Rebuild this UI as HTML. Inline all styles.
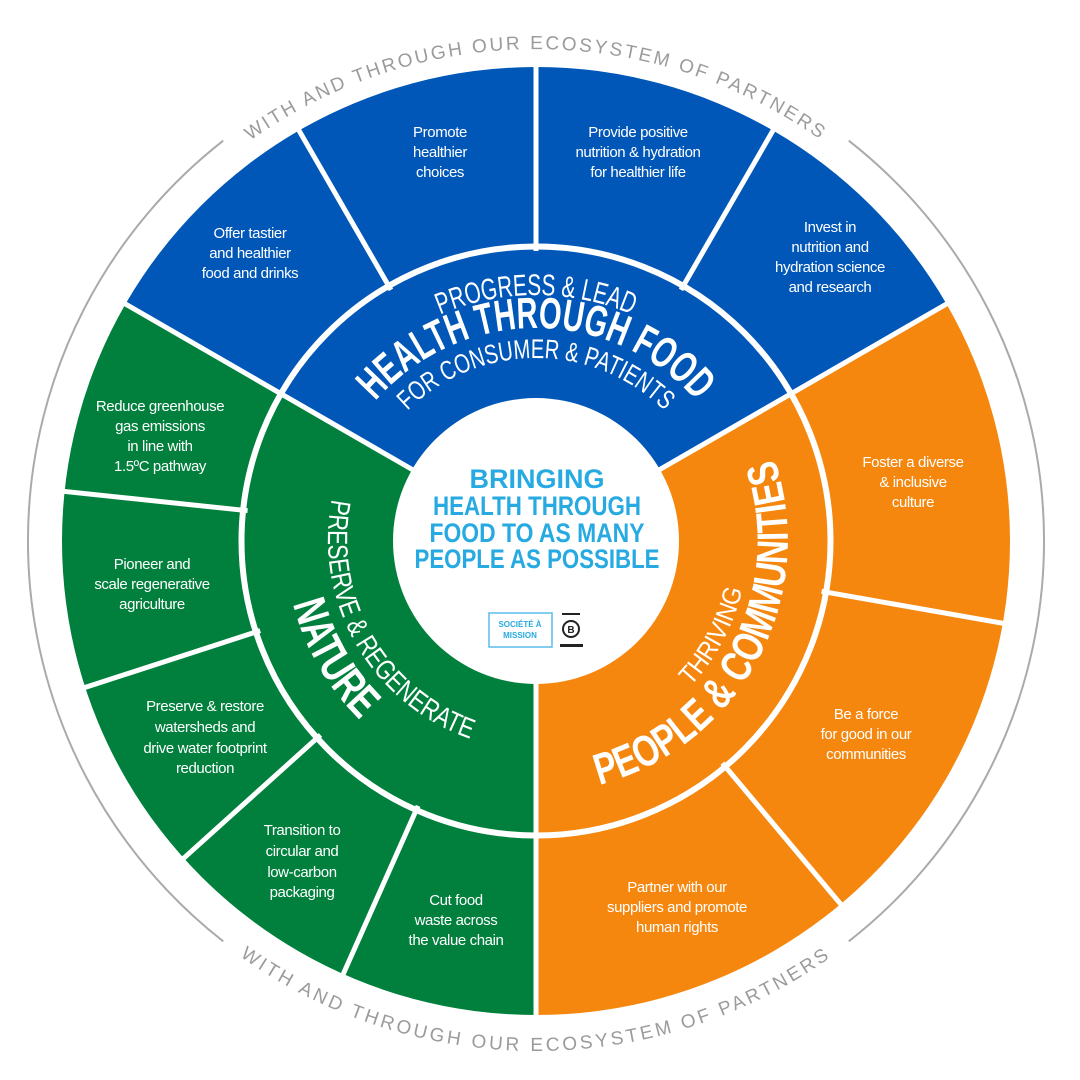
<!DOCTYPE html>
<html><head><meta charset="utf-8"><style>
html,body{margin:0;padding:0;background:#fff;}
svg{display:block;}
.s{font-family:"Liberation Sans Narrow","Liberation Sans",sans-serif;font-size:15px;fill:#fff;text-anchor:middle;letter-spacing:-0.4px;}
.c{font-family:"Liberation Sans Narrow","Liberation Sans",sans-serif;fill:#fff;}
.o{font-family:"Liberation Sans",sans-serif;font-size:19px;fill:#9b9b9b;letter-spacing:3px;}
.m{font-family:"Liberation Sans Narrow","Liberation Sans",sans-serif;font-weight:bold;font-size:27px;fill:#27aae1;text-anchor:middle;}
</style></head><body>
<svg width="1080" height="1080" viewBox="0 0 1080 1080" xmlns="http://www.w3.org/2000/svg">
<defs>
<path id="pTop" d="M44 541 A492 492 0 0 1 1028 541"/>
<path id="pBot" d="M26 541 A510 510 0 0 0 1046 541"/>
<path id="pProg" d="M290 541 A246 246 0 0 1 782 541"/>
<path id="pHealth" d="M323 541 A213 213 0 0 1 749 541"/>
<path id="pFor" d="M353 541 A183 183 0 0 1 719 541"/>
<path id="pPres" d="M430.5 358.3 A211 211 0 0 0 641.5 723.7"/>
<path id="pNat" d="M410.5 323.6 A251 251 0 0 0 661.5 758.4"/>
<path id="pComm" d="M409.5 760.1 A253 253 0 0 0 662.5 321.9"/>
<path id="pThr" d="M430 724.6 A212 212 0 0 0 642 357.4"/>
</defs>
<!-- outer grey arcs -->
<path d="M223.2 140.7 A508 508 0 0 0 223.2 941.3" fill="none" stroke="#aaa" stroke-width="2"/>
<path d="M848.8 941.3 A508 508 0 0 0 848.8 140.7" fill="none" stroke="#aaa" stroke-width="2"/>
<text class="o"><textPath href="#pTop" startOffset="50%" text-anchor="middle" textLength="610" lengthAdjust="spacing">WITH AND THROUGH OUR ECOSYSTEM OF PARTNERS</textPath></text>
<text class="o"><textPath href="#pBot" startOffset="50%" text-anchor="middle" textLength="632" lengthAdjust="spacing">WITH AND THROUGH OUR ECOSYSTEM OF PARTNERS</textPath></text>
<!-- sectors -->
<path d="M536 541 L946.5 304 A474 474 0 0 0 125.5 304 Z" fill="#0057b8"/>
<path d="M536 541 L125.5 304 A474 474 0 0 0 536 1015 Z" fill="#00803c"/>
<path d="M536 541 L536 1015 A474 474 0 0 0 946.5 304 Z" fill="#f5870f"/>
<circle cx="536" cy="541" r="294.5" fill="none" stroke="#fff" stroke-width="6"/>
<g stroke="#fff" stroke-width="5">
<line x1="681" y1="289.9" x2="776" y2="125.3"/>
<line x1="536" y1="251" x2="536" y2="61"/>
<line x1="391" y1="289.9" x2="296" y2="125.3"/>
<line x1="247.6" y1="510.7" x2="58.6" y2="490.8"/>
<line x1="260.2" y1="630.6" x2="79.5" y2="689.3"/>
<line x1="320.5" y1="735" x2="179.3" y2="862.2"/>
<line x1="418.1" y1="805.9" x2="340.8" y2="979.5"/>
<line x1="722.4" y1="763.1" x2="844.5" y2="908.7"/>
<line x1="821.6" y1="591.3" x2="1008.7" y2="624.3"/>
<line x1="657.2" y1="471" x2="951.7" y2="301"/>
<line x1="414.8" y1="471" x2="120.3" y2="301"/>
<line x1="536" y1="681" x2="536" y2="1021"/>
</g>
<circle cx="536" cy="541" r="143" fill="#fff"/>
<!-- category labels -->
<text class="c" font-size="30"><textPath href="#pProg" startOffset="50%" text-anchor="middle" textLength="197" lengthAdjust="spacingAndGlyphs">PROGRESS &amp; LEAD</textPath></text>
<text class="c" font-size="44" font-weight="bold"><textPath href="#pHealth" startOffset="50%" text-anchor="middle" textLength="364" lengthAdjust="spacingAndGlyphs">HEALTH THROUGH FOOD</textPath></text>
<text class="c" font-size="27"><textPath href="#pFor" startOffset="50%" text-anchor="middle" textLength="285" lengthAdjust="spacingAndGlyphs">FOR CONSUMER &amp; PATIENTS</textPath></text>
<text class="c" font-size="28"><textPath href="#pPres" startOffset="50%" text-anchor="middle" textLength="302" lengthAdjust="spacingAndGlyphs">PRESERVE &amp; REGENERATE</textPath></text>
<text class="c" font-size="46" font-weight="bold"><textPath href="#pNat" startOffset="50%" text-anchor="middle" textLength="136" lengthAdjust="spacingAndGlyphs">NATURE</textPath></text>
<text class="c" font-size="44" font-weight="bold"><textPath href="#pComm" startOffset="51%" text-anchor="middle" textLength="415" lengthAdjust="spacingAndGlyphs">PEOPLE &amp; COMMUNITIES</textPath></text>
<text class="c" font-size="26"><textPath href="#pThr" startOffset="51%" text-anchor="middle" textLength="111" lengthAdjust="spacingAndGlyphs">THRIVING</textPath></text>
<!-- center -->
<text class="m" x="537" y="488" textLength="135" lengthAdjust="spacingAndGlyphs">BRINGING</text>
<text class="m" x="537" y="515" textLength="208" lengthAdjust="spacingAndGlyphs">HEALTH THROUGH</text>
<text class="m" x="537" y="542" textLength="215" lengthAdjust="spacingAndGlyphs">FOOD TO AS MANY</text>
<text class="m" x="537" y="568" textLength="245" lengthAdjust="spacingAndGlyphs">PEOPLE AS POSSIBLE</text>
<rect x="489" y="613" width="63" height="34" fill="none" stroke="#5bbcec" stroke-width="1.5"/>
<text x="520" y="627" font-family="Liberation Sans Narrow,Liberation Sans,sans-serif" font-size="8" font-weight="bold" fill="#27aae1" text-anchor="middle">SOCIÉTÉ À</text>
<text x="520" y="638" font-family="Liberation Sans Narrow,Liberation Sans,sans-serif" font-size="8" font-weight="bold" fill="#27aae1" text-anchor="middle">MISSION</text>
<circle cx="571" cy="629" r="8" fill="none" stroke="#222" stroke-width="2"/>
<text x="571" y="633" font-family="Liberation Sans,sans-serif" font-size="10" font-weight="bold" fill="#222" text-anchor="middle">B</text>
<rect x="560" y="644" width="23" height="3" fill="#222"/>
<rect x="562" y="613" width="18" height="2" fill="#222"/>
<!-- segment labels -->
<g class="s">
<text x="440" y="137">Promote</text><text x="440" y="157">healthier</text><text x="440" y="177">choices</text>
<text x="638" y="137">Provide positive</text><text x="638" y="157">nutrition &amp; hydration</text><text x="638" y="177">for healthier life</text>
<text x="250" y="238">Offer tastier</text><text x="250" y="258">and healthier</text><text x="250" y="278">food and drinks</text>
<text x="830" y="232">Invest in</text><text x="830" y="252">nutrition and</text><text x="830" y="272">hydration science</text><text x="830" y="292">and research</text>
<text x="160" y="411">Reduce greenhouse</text><text x="160" y="431">gas emissions</text><text x="160" y="451">in line with</text><text x="160" y="471">1.5ºC pathway</text>
<text x="152" y="569">Pioneer and</text><text x="152" y="589">scale regenerative</text><text x="152" y="609">agriculture</text>
<text x="205" y="711">Preserve &amp; restore</text><text x="205" y="732">watersheds and</text><text x="205" y="753">drive water footprint</text><text x="205" y="773">reduction</text>
<text x="302" y="835">Transition to</text><text x="302" y="856">circular and</text><text x="302" y="877">low-carbon</text><text x="302" y="897">packaging</text>
<text x="456" y="905">Cut food</text><text x="456" y="925">waste across</text><text x="456" y="945">the value chain</text>
<text x="913" y="467">Foster a diverse</text><text x="913" y="487">&amp; inclusive</text><text x="913" y="507">culture</text>
<text x="866" y="719">Be a force</text><text x="866" y="739">for good in our</text><text x="866" y="759">communities</text>
<text x="677" y="892">Partner with our</text><text x="677" y="912">suppliers and promote</text><text x="677" y="932">human rights</text>
</g>
</svg>
</body></html>
